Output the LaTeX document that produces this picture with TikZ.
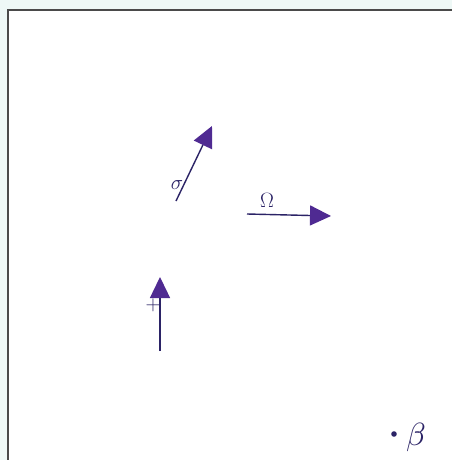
\documentclass[tikz,border=0pt]{standalone}
\usepackage{graphicx}
\usetikzlibrary{arrows.meta}
\definecolor{ink}{HTML}{2B2366}
\definecolor{headc}{HTML}{4F2A92}
\definecolor{bgc}{HTML}{EEF8F6}
\definecolor{framec}{HTML}{4A4A4A}
\begin{document}
\begin{tikzpicture}[x=1pt,y=-1pt,
  vec/.style={draw=ink,line width=1.4pt,-{Triangle[length=21pt,width=20pt,fill=headc,color=headc]}},
  lab/.style={text=ink,inner sep=0pt,font=\fontsize{20}{20}\selectfont},
  ]
\useasboundingbox (0,0) rectangle (452,460);
\fill[bgc] (0,0) rectangle (452,460);
\fill[white] (8,10) rectangle (452,460);
\draw[framec,line width=1.8pt] (8,460) -- (8,10) -- (452,10);
% vectors
\coordinate (a0) at (176,201); \coordinate (a1) at (212,126);
\coordinate (b0) at (247,214); \coordinate (b1) at (331,216);
\coordinate (c0) at (160,351); \coordinate (c1) at (160,277);
\draw[vec] (a0) -- (a1);
\draw[vec] (b0) -- (b1);
\draw[vec] (c0) -- (c1);
\node[lab] (la) at (177,185) {$\sigma$};
\node[lab] (lb) at (267,200) {$\Omega$};
\node[lab] (lc) at (153,305) {$+$};
% point
\fill[ink] (394,434) circle (2.8);
\node[text=ink,inner sep=0pt] (beta) at (416,437) {\scalebox{3.2}{$\beta$}};
\end{tikzpicture}
\end{document}
